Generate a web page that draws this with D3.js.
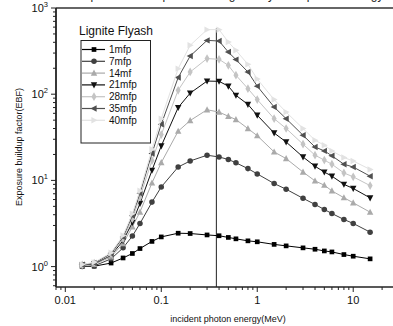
<!DOCTYPE html>
<html><head><meta charset="utf-8">
<script src="https://cdn.jsdelivr.net/npm/d3@7"></script>
<style>body{margin:0;background:#fff}svg{display:block}text{font-family:"Liberation Sans",Arial,sans-serif}</style>
</head><body>
<script>
const energies = [0.015,0.02,0.03,0.04,0.05,0.06,0.08,0.1,0.15,0.2,0.3,0.4,0.5,0.6,0.8,1,1.5,2,3,4,5,6,8,10,15];
const seriesNames = ["1mfp","7mfp","14mf","21mfp","28mfp","35mfp","40mfp"];
const ebf1  = [1.0,1.01,1.1,1.26,1.42,1.62,1.96,2.21,2.44,2.42,2.33,2.28,2.18,2.1,1.99,1.94,1.81,1.74,1.65,1.59,1.52,1.48,1.38,1.32,1.23];
const ebf7  = [1.0,1.02,1.23,1.65,2.26,3.16,5.6,8.4,14.3,16.8,19.6,18.7,17.5,16.0,13.7,11.9,9.2,7.9,6.2,5.26,4.6,4.13,3.52,3.17,2.51];
const ebf14 = [1.03,1.06,1.3,1.85,2.9,4.3,9.35,16.1,37.2,49.5,66,62,55.5,50.8,39.9,33,21.4,17.9,12.5,9.87,8.8,7.56,6.3,5.5,4.28];
const ebf21 = [1.04,1.08,1.35,2.0,3.25,5.4,13.1,25.1,70,103,142,141,124,97,76,57,35.5,27.9,18.7,14.6,12.5,11.2,9.0,8.06,6.27];
const ebf28 = [1.05,1.1,1.38,2.1,3.6,6.4,17,34,111,181,259,254,216,166,116,86.6,52,40,26.3,19.6,17.2,15.4,12.2,11,8.7];
const ebf35 = [1.05,1.1,1.42,2.2,3.9,7.1,20.5,44.8,156,277,421,414,308,252,181,124,71,52,33.4,24.4,22,19.3,15.4,14.3,11.2];
const ebf40 = [1.06,1.12,1.45,2.3,4.1,7.6,23,52,198,369,561,561,403,323,222,150,86.6,62,40,29.2,25.6,22,18.4,16.8,13.4];
const xTickLabels = ["0.01","0.1","1","10"];
const yTickExps = ["0","1","2","3"];
const markerLine = 0.375;

const colors = ["#000000","#404040","#aaaaaa","#111111","#c4c4c4","#505050","#e2e2e2"];
const symbols = [d3.symbolSquare,d3.symbolCircle,"up","down",d3.symbolDiamond,"left","right"];
const allSeries = [ebf1,ebf7,ebf14,ebf21,ebf28,ebf35,ebf40];

const W=393,H=326;
const svg=d3.select("body").append("svg").attr("width",W).attr("height",H);
const L=56,T=8,R=399,B=287;
const x=d3.scaleLog().domain([0.008,30]).range([L,R]);
const y=d3.scaleLog().domain([0.58,1000]).range([B,T]);

// title, mostly above the visible area (only descenders show, as in the reference)
svg.append("text").attr("x",230).attr("y",-1.5).attr("text-anchor","middle")
  .attr("font-size",12).attr("fill","#222").text("Exposure buildup factor of Lignite Flyash – photon energy");

function tri(dir,s){
  const h=s*0.9;
  let pts;
  if(dir==="up") pts=[[0,-h*0.6],[h*0.55,h*0.45],[-h*0.55,h*0.45]];
  else if(dir==="down") pts=[[0,h*0.6],[h*0.55,-h*0.45],[-h*0.55,-h*0.45]];
  else if(dir==="left") pts=[[-h*0.6,0],[h*0.45,-h*0.55],[h*0.45,h*0.55]];
  else pts=[[h*0.6,0],[-h*0.45,-h*0.55],[-h*0.45,h*0.55]];
  return "M"+pts.map(p=>p.join(",")).join("L")+"Z";
}
function markerPath(i){
  const s=symbols[i];
  if(typeof s==="string") return tri(s,6.5);
  if(s===d3.symbolCircle) return d3.symbol().type(s).size(24)();
  return d3.symbol().type(s).size(22)();
}

// axes frame
const g=svg.append("g");
g.append("line").attr("x1",L).attr("x2",W+5).attr("y1",T).attr("y2",T).attr("stroke","#333").attr("stroke-width",1.5);
g.append("line").attr("x1",L).attr("x2",W+5).attr("y1",B).attr("y2",B).attr("stroke","#222").attr("stroke-width",1.5);
g.append("line").attr("x1",L).attr("x2",L).attr("y1",T).attr("y2",B).attr("stroke","#222").attr("stroke-width",1.8);

// x ticks
const xt=[];
for(let e=-3;e<=1;e++){for(let m=1;m<=9;m++){const v=m*Math.pow(10,e);if(v>=0.008&&v<=30)xt.push({v,major:m===1});}}
const xa=svg.append("g");
xa.selectAll("line").data(xt).enter().append("line")
  .attr("x1",d=>x(d.v)).attr("x2",d=>x(d.v)).attr("y1",B).attr("y2",d=>B+(d.major?5:3))
  .attr("stroke","#222").attr("stroke-width",1);
xa.selectAll("text").data(xTickLabels).enter().append("text")
  .attr("x",d=>x(+d)).attr("y",B+17).attr("text-anchor","middle").attr("font-size",11).attr("fill","#111").text(d=>d);

// y ticks
const yt=[];
for(let e=-1;e<=3;e++){for(let m=1;m<=9;m++){const v=m*Math.pow(10,e);if(v>=0.58&&v<=1000)yt.push({v,major:m===1});}}
const ya=svg.append("g");
ya.selectAll("line").data(yt).enter().append("line")
  .attr("x1",L).attr("x2",d=>L-(d.major?5:3)).attr("y1",d=>y(d.v)).attr("y2",d=>y(d.v))
  .attr("stroke","#222").attr("stroke-width",1);
const yl=ya.selectAll("text").data(yTickExps).enter().append("text")
  .attr("x",L-8).attr("y",d=>y(Math.pow(10,+d))+4).attr("text-anchor","end").attr("font-size",11).attr("fill","#111");
yl.append("tspan").text("10");
yl.append("tspan").attr("dy",-5).attr("font-size",7.5).text(d=>d);

// axis titles
svg.append("text").attr("x",228).attr("y",322).attr("text-anchor","middle").attr("font-size",9).attr("fill","#111").text("incident photon energy(MeV)");
svg.append("text").attr("transform","translate(22,147) rotate(-90)").attr("text-anchor","middle").attr("font-size",9).attr("fill","#111").text("Exposure buildup factor(EBF)");

// vertical line
svg.append("line").attr("x1",x(markerLine)).attr("x2",x(markerLine)).attr("y1",y(580)).attr("y2",B).attr("stroke","#222").attr("stroke-width",1);

// series
const line=d3.line().x((d,i)=>x(energies[i])).y(d=>y(d));
allSeries.forEach((s,i)=>{
  const sg=svg.append("g");
  sg.append("path").attr("d",line(s)).attr("fill","none").attr("stroke",colors[i]).attr("stroke-width",1);
  sg.selectAll("path.m").data(s).enter().append("path").attr("class","m")
    .attr("transform",(d,j)=>`translate(${x(energies[j])},${y(d)})`)
    .attr("d",markerPath(i)).attr("fill",colors[i]);
});

// legend
svg.append("text").attr("x",79).attr("y",35).attr("font-size",12).attr("fill","#111").text("Lignite Flyash");
svg.append("rect").attr("x",81).attr("y",40.5).attr("width",69.5).attr("height",102.5).attr("fill","#fff").attr("stroke","#222").attr("stroke-width",1);
const lg=svg.append("g");
seriesNames.forEach((n,i)=>{
  const yy=49.5+i*11.8;
  lg.append("line").attr("x1",82).attr("x2",105).attr("y1",yy).attr("y2",yy).attr("stroke",colors[i]).attr("stroke-width",1.2);
  lg.append("path").attr("transform",`translate(94,${yy})`).attr("d",markerPath(i)).attr("fill",colors[i]);
  lg.append("text").attr("x",109).attr("y",yy+3.5).attr("font-size",10).attr("fill","#111").text(n);
});
</script>
</body></html>
